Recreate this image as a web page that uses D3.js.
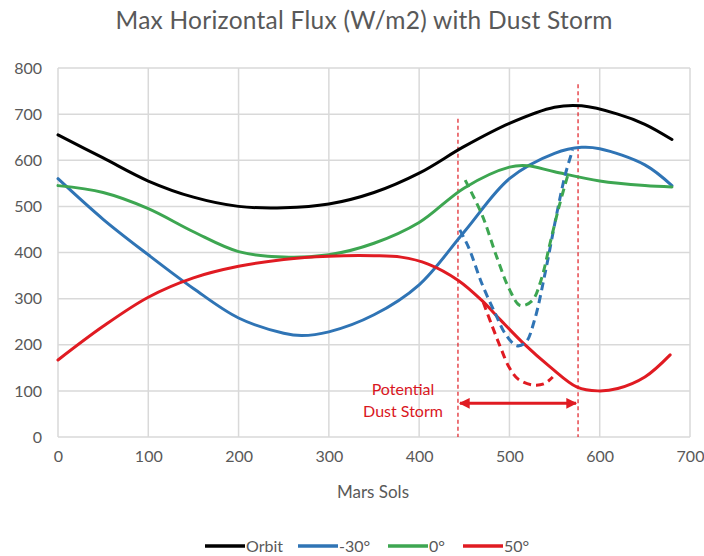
<!DOCTYPE html>
<html><head><meta charset="utf-8">
<script src="https://cdn.jsdelivr.net/npm/d3@7"></script>
<style>body{margin:0;background:#fff}svg{display:block}text{font-family:Lato,"Open Sans",sans-serif}</style>
</head><body><svg id="c" width="704" height="556"></svg>
<script>
const title = "Max Horizontal Flux  (W/m2) with Dust Storm";
const xLabel = "Mars Sols";
const xTicks = [0,100,200,300,400,500,600,700];
const yTicks = [0,100,200,300,400,500,600,700,800];
const seriesNames = ["Orbit","-30°","0°","50°"];
const seriesColors = ["#000000","#2f74b5","#3da651","#e01b22"];

const orbitSol = [0,50,100,150,200,250,300,350,400,450,500,550,580,620,650,680];
const orbitVal = [655,605,555,520,500,497,505,530,572,630,680,715,718,700,678,645];
const m30Sol = [0,50,100,150,200,250,270,300,350,400,450,500,550,580,600,650,680];
const m30Val = [560,472,395,322,258,225,220,228,265,330,445,560,615,628,625,590,545];
const zeroSol = [0,50,100,150,200,250,300,350,400,450,500,520,550,600,650,680];
const zeroVal = [545,530,495,445,402,390,395,420,465,540,585,588,575,555,545,542];
const p50Sol = [0,50,100,150,200,250,300,350,380,410,443,470,490,515,545,575,598,620,650,678];
const p50Val = [167,240,303,345,370,385,392,393,390,375,340,295,254,204,152,108,100,105,130,178];

// dust-storm (dashed) variants
const m30DustSol = [445,455,470,485,495,508,518,528,540,552,562,570];
const m30DustVal = [449,410,330,265,225,198,205,255,360,480,570,622];
const zeroDustSol = [451,470,486,500,512,525,535,545,555,565];
const zeroDustVal = [557,480,390,320,285,295,340,420,500,570];
const p50DustSol = [471,480,490,500,510,525,538,548];
const p50DustVal = [292,245,195,150,125,113,115,130];

const stormStart = 443, stormEnd = 576;
const stormTop1 = 690, stormTop2 = 765, arrowVal = 73;
const stormText = ["Potential","Dust Storm"];

const svg = d3.select("#c");
const W=704,H=556, m={l:58,r:14,t:68,b:119};
const x = d3.scaleLinear().domain([0,700]).range([m.l, W-m.r]);
const y = d3.scaleLinear().domain([0,800]).range([H-m.b, m.t]);

// grid
svg.append("g").selectAll("line").data(yTicks).join("line")
  .attr("x1",x(0)).attr("x2",x(700)).attr("y1",d=>y(d)).attr("y2",d=>y(d))
  .attr("stroke","#d9d9d9").attr("stroke-width",1.5);
svg.append("g").selectAll("line").data(xTicks).join("line")
  .attr("y1",y(0)).attr("y2",y(800)).attr("x1",d=>x(d)).attr("x2",d=>x(d))
  .attr("stroke","#d9d9d9").attr("stroke-width",1.5);

// axes labels
const xa = svg.append("g").attr("transform",`translate(0,${y(0)})`)
  .call(d3.axisBottom(x).tickValues(xTicks).tickSize(0).tickPadding(14));
const ya = svg.append("g").attr("transform",`translate(${x(0)},0)`)
  .call(d3.axisLeft(y).tickValues(yTicks).tickSize(0).tickPadding(16));
[xa,ya].forEach(a=>{a.select(".domain").remove();
  a.selectAll("text").attr("fill","#595959").style("font-size","16px").style("font-family","Lato,'Open Sans',sans-serif");});

svg.append("text").attr("x",364).attr("y",29).attr("text-anchor","middle")
  .attr("fill","#595959").style("font-size","24.5px")
  .attr("textLength",497).attr("lengthAdjust","spacing").text(title);
svg.append("text").attr("x",373).attr("y",498).attr("text-anchor","middle")
  .attr("fill","#595959").style("font-size","17px").text(xLabel);

const line = d3.line().x(d=>x(d[0])).y(d=>y(d[1])).curve(d3.curveCatmullRom.alpha(0.5));
const zip=(a,b)=>a.map((v,i)=>[v,b[i]]);

// storm guides
const red = seriesColors[3];
svg.append("line").attr("x1",x(stormStart)).attr("x2",x(stormStart)).attr("y1",y(stormTop1)).attr("y2",y(0))
  .attr("stroke",red).attr("stroke-width",1.2).attr("stroke-dasharray","4,3");
svg.append("line").attr("x1",x(stormEnd)).attr("x2",x(stormEnd)).attr("y1",y(stormTop2)).attr("y2",y(0))
  .attr("stroke",red).attr("stroke-width",1.2).attr("stroke-dasharray","4,3");

const solid = [[orbitSol,orbitVal],[m30Sol,m30Val],[zeroSol,zeroVal],[p50Sol,p50Val]];
solid.forEach((s,i)=>svg.append("path").attr("d",line(zip(s[0],s[1]))).attr("fill","none")
  .attr("stroke",seriesColors[i]).attr("stroke-width",3).attr("stroke-linecap","round"));
const dashed = [[m30DustSol,m30DustVal,1],[zeroDustSol,zeroDustVal,2],[p50DustSol,p50DustVal,3]];
dashed.forEach(s=>svg.append("path").attr("d",line(zip(s[0],s[1]))).attr("fill","none")
  .attr("stroke",seriesColors[s[2]]).attr("stroke-width",3).attr("stroke-dasharray","8,5"));

// arrow
const defs = svg.append("defs");
defs.append("marker").attr("id","ah").attr("viewBox","0 0 10 10").attr("refX",9).attr("refY",5)
  .attr("markerWidth",5).attr("markerHeight",3.6).attr("orient","auto-start-reverse")
  .append("path").attr("d","M0,0L10,5L0,10z").attr("fill",red);
svg.append("line").attr("x1",x(stormStart)+2).attr("x2",x(stormEnd)-2).attr("y1",y(arrowVal)).attr("y2",y(arrowVal))
  .attr("stroke",red).attr("stroke-width",3).attr("marker-start","url(#ah)").attr("marker-end","url(#ah)");
svg.append("g").selectAll("text").data(stormText).join("text")
  .attr("x",403).attr("y",(d,i)=>395+i*22).attr("text-anchor","middle").attr("fill","#d9171e")
  .style("font-size","16px").text(d=>d);

// legend
const lg = svg.append("g").attr("transform","translate(0,546)");
const legX = [205,298,388,463];
seriesNames.forEach((n,i)=>{
  lg.append("line").attr("x1",legX[i]).attr("x2",legX[i]+40).attr("y1",0).attr("y2",0)
    .attr("stroke",seriesColors[i]).attr("stroke-width",3.5);
  lg.append("text").attr("x",legX[i]+41).attr("y",6).attr("fill","#595959").style("font-size","16px").text(n);
});
</script></body></html>
